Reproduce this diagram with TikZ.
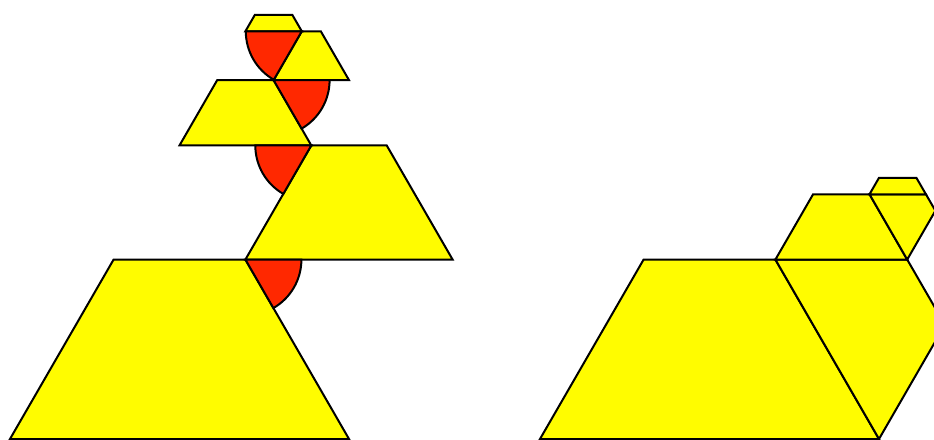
\documentclass[tikz,border=0pt]{standalone}
\usetikzlibrary{calc}
\definecolor{tyellow}{RGB}{255,252,0}
\definecolor{tred}{RGB}{255,40,0}
\tikzset{
  trap/.style={draw=black,fill=tyellow,line width=2pt,line join=miter},
  wedge/.style={draw=black,fill=tred,line width=2pt,line join=miter}
}
\begin{document}
\begin{tikzpicture}[x=1pt,y=1pt]
\useasboundingbox (0,0) rectangle (934,439);
\clip (0,0) rectangle (934,439);
\pgfmathsetmacro\qa{339}
\pgfmathsetmacro\qb{207.2}
\pgfmathsetmacro\qc{\qa-\qb}
\pgfmathsetmacro\qd{\qb-\qc}
\pgfmathsetmacro\qe{\qc-\qd}
\pgfmathsetmacro\qf{\qd-\qe}
\def\rad{56}
% ---------- left figure (unfolded) ----------
\coordinate (A1) at (10,0);
\coordinate (B1) at ($(A1)+(\qa,0)$);
\coordinate (D1) at ($(A1)+(60:\qb)$);
\coordinate (C1) at ($(B1)+(120:\qb)$);
\coordinate (A2) at (C1);
\coordinate (B2) at ($(A2)+(0:\qb)$);
\coordinate (D2) at ($(A2)+(60:\qc)$);
\coordinate (C2) at ($(B2)+(120:\qc)$);
\coordinate (B3) at (D2);
\coordinate (A3) at ($(B3)+(180:\qc)$);
\coordinate (C3) at ($(B3)+(120:\qd)$);
\coordinate (D3) at ($(A3)+(60:\qd)$);
\coordinate (A4) at (C3);
\coordinate (B4) at ($(A4)+(0:\qd)$);
\coordinate (D4) at ($(A4)+(60:\qe)$);
\coordinate (C4) at ($(B4)+(120:\qe)$);
\coordinate (B5) at (D4);
\coordinate (A5) at ($(B5)+(180:\qe)$);
\coordinate (C5) at ($(B5)+(120:\qf)$);
\coordinate (D5) at ($(A5)+(60:\qf)$);
\draw[trap] (A1) -- (B1) -- (C1) -- (D1) -- cycle;
\draw[trap] (A2) -- (B2) -- (C2) -- (D2) -- cycle;
\draw[trap] (A3) -- (B3) -- (C3) -- (D3) -- cycle;
\draw[trap] (A4) -- (B4) -- (C4) -- (D4) -- cycle;
\draw[trap] (A5) -- (B5) -- (C5) -- (D5) -- cycle;
\draw[wedge] (C1) -- ++(-60:\rad) arc[start angle=-60,end angle=0,radius=\rad] -- cycle;
\draw[wedge] (D2) -- ++(180:\rad) arc[start angle=180,end angle=240,radius=\rad] -- cycle;
\draw[wedge] (C3) -- ++(-60:\rad) arc[start angle=-60,end angle=0,radius=\rad] -- cycle;
\draw[wedge] (D4) -- ++(180:\rad) arc[start angle=180,end angle=240,radius=\rad] -- cycle;
% ---------- right figure (assembled) ----------
\coordinate (RA1) at (540,0);
\coordinate (RB1) at ($(RA1)+(\qa,0)$);
\coordinate (RD1) at ($(RA1)+(60:\qb)$);
\coordinate (RC1) at ($(RB1)+(120:\qb)$);
\coordinate (RA2) at (RC1);
\coordinate (RB2) at ($(RA2)+(-60:\qb)$);
\coordinate (RD2) at ($(RA2)+(0:\qc)$);
\coordinate (RC2) at ($(RB2)+(60:\qc)$);
\coordinate (RB3) at (RD2);
\coordinate (RA3) at ($(RB3)+(180:\qc)$);
\coordinate (RC3) at ($(RB3)+(120:\qd)$);
\coordinate (RD3) at ($(RA3)+(60:\qd)$);
\coordinate (RA4) at (RC3);
\coordinate (RB4) at ($(RA4)+(-60:\qd)$);
\coordinate (RD4) at ($(RA4)+(0:\qe)$);
\coordinate (RC4) at ($(RB4)+(60:\qe)$);
\coordinate (RB5) at (RD4);
\coordinate (RA5) at ($(RB5)+(180:\qe)$);
\coordinate (RC5) at ($(RB5)+(120:\qf)$);
\coordinate (RD5) at ($(RA5)+(60:\qf)$);
\draw[trap] (RA1) -- (RB1) -- (RC1) -- (RD1) -- cycle;
\draw[trap] (RA2) -- (RB2) -- (RC2) -- (RD2) -- cycle;
\draw[trap] (RA3) -- (RB3) -- (RC3) -- (RD3) -- cycle;
\draw[trap] (RA4) -- (RB4) -- (RC4) -- (RD4) -- cycle;
\draw[trap] (RA5) -- (RB5) -- (RC5) -- (RD5) -- cycle;
\end{tikzpicture}
\end{document}
